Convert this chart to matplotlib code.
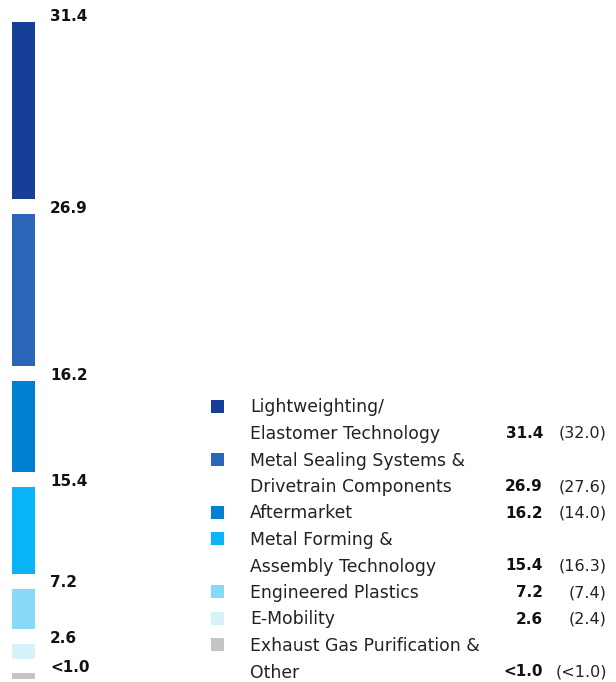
import matplotlib
matplotlib.use("Agg")
import matplotlib.pyplot as plt
import matplotlib.transforms as mtransforms
from matplotlib.patches import Rectangle

# segment data (top to bottom)
segments = ["Lightweighting/\nElastomer Technology",
            "Metal Sealing Systems &\nDrivetrain Components",
            "Aftermarket",
            "Metal Forming &\nAssembly Technology",
            "Engineered Plastics",
            "E-Mobility",
            "Exhaust Gas Purification &\nOther"]
values = [31.4, 26.9, 16.2, 15.4, 7.2, 2.6, 1.0]
value_labels = ["31.4", "26.9", "16.2", "15.4", "7.2", "2.6", "<1.0"]
prev_labels = ["(32.0)", "(27.6)", "(14.0)", "(16.3)", "(7.4)", "(2.4)", "(<1.0)"]
colors = ["#173f97", "#2a66b8", "#0080d0", "#0ab4f8", "#88d8f8", "#d8f2fa", "#c4c4c4"]

W, H = 616, 682
gap = 2.6

fig = plt.figure(figsize=(W / 100, H / 100), dpi=100)
plt.rcParams['font.family'] = ['DejaVu Sans']

# stacked bar, drawn bottom-up with small gaps between segments
total = sum(values) + gap * (len(values) - 1)
ax = fig.add_axes([12 / W, 3 / H, 23 / W, 657 / H])
ax.set_xlim(0, 1)
ax.set_ylim(0, total)
ax.axis('off')

trans = mtransforms.blended_transform_factory(fig.transFigure, ax.transData)
bottom = 0.0
for i in range(len(values) - 1, -1, -1):
    ax.bar(0.5, values[i], width=1.0, bottom=bottom, color=colors[i])
    ax.text(50 / W, bottom + values[i] + 0.2, value_labels[i], transform=trans,
            ha='left', va='baseline', fontsize=11, fontweight='bold', color='#111111')
    bottom += values[i] + gap

# legend table
lg = fig.add_axes([0, 0, 1, 1])
lg.set_xlim(0, W)
lg.set_ylim(H, 0)
lg.axis('off')

row_h = 26.5
y = 405.5
for name, lab, prev, c in zip(segments, value_labels, prev_labels, colors):
    lines = name.split("\n")
    lg.add_patch(Rectangle((211, y - 6), 13, 13, color=c, lw=0))
    for j, ln in enumerate(lines):
        lg.text(250, y + j * row_h, ln, ha='left', va='center_baseline',
                fontsize=12.4, color='#222222')
    yl = y + (len(lines) - 1) * row_h
    lg.text(543, yl, lab, ha='right', va='center_baseline', fontsize=11,
            fontweight='bold', color='#111111')
    lg.text(607, yl, prev, ha='right', va='center_baseline', fontsize=11.5,
            color='#222222')
    y += len(lines) * row_h

fig.savefig("out.png", dpi=100)
